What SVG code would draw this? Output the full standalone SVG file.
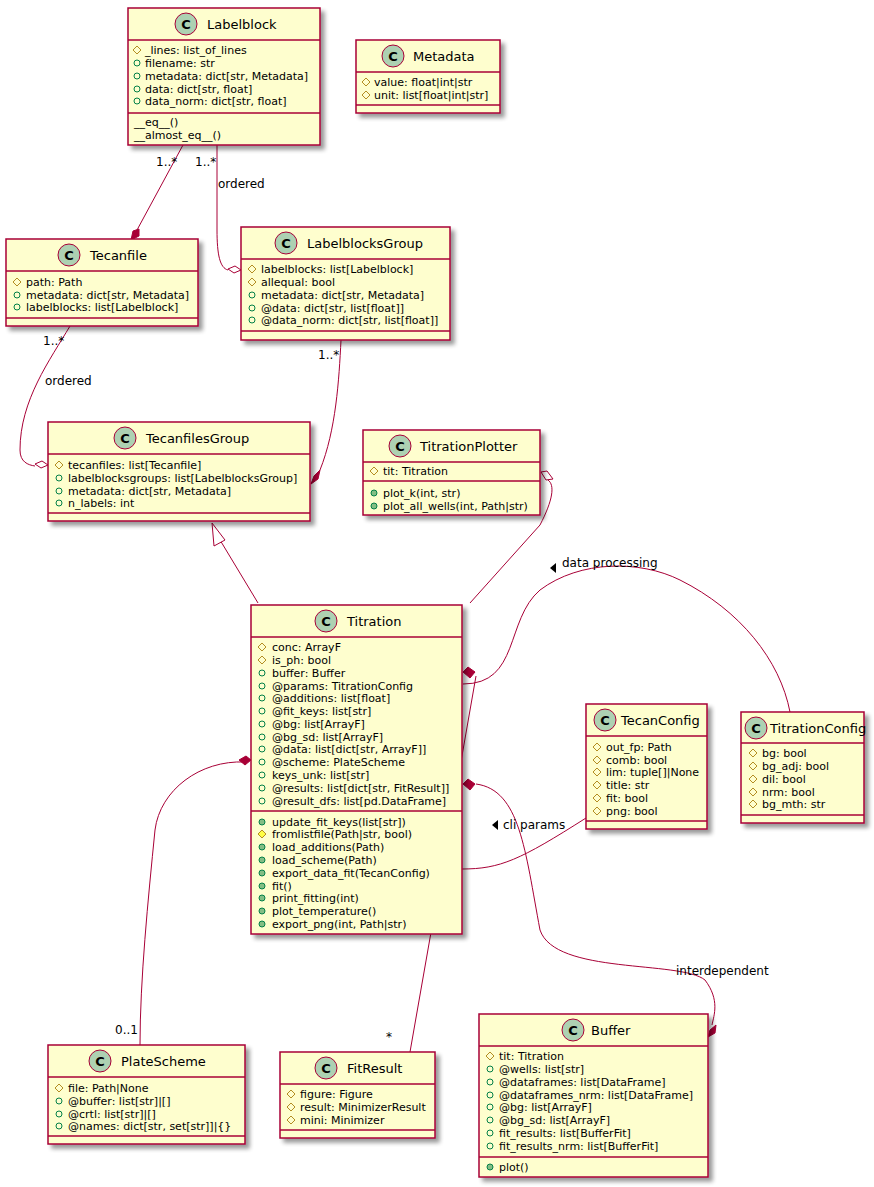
<svg xmlns="http://www.w3.org/2000/svg" width="874" height="1187" viewBox="0 0 874 1187">
<style>
.box{fill:#FEFECE;stroke:#A80036;stroke-width:1.5;filter:url(#sh)}
.sep{stroke:#A80036;stroke-width:1.5}
.ci{fill:#ADD1B2;stroke:#A80036;stroke-width:1}
.cl{font:bold 13px "DejaVu Sans",sans-serif;fill:#000}
.n{font:13px "DejaVu Sans",sans-serif;fill:#000}
.m{font:11px "DejaVu Sans",sans-serif;fill:#000}
.e{fill:none;stroke:#A80036;stroke-width:1}
.lb{font:12px "DejaVu Sans",sans-serif;fill:#000}
</style>
<defs>
<filter id="sh" x="-10%" y="-10%" width="130%" height="130%"><feGaussianBlur in="SourceAlpha" stdDeviation="2"/><feOffset dx="4" dy="4"/><feComponentTransfer><feFuncA type="linear" slope="0.4"/></feComponentTransfer><feMerge><feMergeNode/><feMergeNode in="SourceGraphic"/></feMerge></filter>
<circle id="pf" r="3" fill="none" stroke="#038048" stroke-width="1"/>
<circle id="pm" r="3" fill="#84BE84" stroke="#038048" stroke-width="1"/>
<path id="hf" d="M0,-4L4,0L0,4L-4,0Z" fill="none" stroke="#B38D22" stroke-width="1"/>
<path id="hm" d="M0,-4L4,0L0,4L-4,0Z" fill="#FFFF44" stroke="#B38D22" stroke-width="1"/>
</defs>
<rect width="874" height="1187" fill="#fff"/>

<g id="connectors">
<path class="e" d="M183,145 L137,230"/>
<path d="M131,240 L133,231 L139,229 L139,236 Z" fill="#A80036" stroke="#A80036"/>
<text class="lb" x="156" y="166">1..*</text>
<path class="e" d="M217,145 L217,230 C217,255 220,268 228,270"/>
<path d="M241,270 L235,266 L228,269 L234,273 Z" fill="#fff" stroke="#A80036"/>
<text class="lb" x="195" y="166">1..*</text>
<text class="lb" x="218" y="188">ordered</text>
<path class="e" d="M70,326 C50,360 20,400 20,450 C20,462 28,465 35,466"/>
<path d="M48,465 L42,461 L35,464 L41,468 Z" fill="#fff" stroke="#A80036"/>
<text class="lb" x="43" y="345">1..*</text>
<text class="lb" x="45" y="385">ordered</text>
<path class="e" d="M341,340 C339,380 336,430 320,470"/>
<path d="M311,484 L314,476 L320,470 L318,479 Z" fill="#A80036" stroke="#A80036"/>
<text class="lb" x="318" y="359">1..*</text>
<path class="e" d="M258,603 L220,540"/>
<path d="M212,523 L225,540 L214,546 Z" fill="#fff" stroke="#A80036"/>
<path class="e" d="M548,480 C555,485 553,500 540,525 L470,603"/>
<path d="M541,472 L547,471 L553,479 L546,480 Z" fill="#fff" stroke="#A80036"/>
<path class="e" d="M463,684 C520,684 505,620 540,590 C580,560 640,560 680,580 C740,610 780,660 790,712"/>
<path d="M550,568 L556,563 L556,573 Z" fill="#000"/>
<text class="lb" x="562" y="567">data processing</text>
<path class="e" d="M476,676 L410,1052"/>
<path d="M463,672 L468,667 L475,672 L470,678 Z" fill="#A80036" stroke="#A80036"/>
<text class="lb" x="386" y="1041">*</text>
<path class="e" d="M476,784 C520,790 525,850 540,930 C555,975 680,960 705,980 C720,1000 714,1015 712,1025"/>
<path d="M463,784 L468,779 L475,784 L470,790 Z" fill="#A80036" stroke="#A80036"/>
<path d="M708,1037 L710,1030 L716,1025 L715,1033 Z" fill="#A80036" stroke="#A80036"/>
<text class="lb" x="676" y="975">interdependent</text>
<path class="e" d="M462,869 C500,869 520,860 586,818"/>
<path d="M492,825 L498,820 L498,830 Z" fill="#000"/>
<text class="lb" x="503" y="829">cli params</text>
<path class="e" d="M245,762 C200,760 160,790 155,830 C148,900 140,980 140,1045"/>
<path d="M251,760 L246,756 L239,760 L245,765 Z" fill="#A80036" stroke="#A80036"/>
<text class="lb" x="115" y="1034">0..1</text>
</g>

<g id="Labelblock">
<rect class="box" x="128" y="8" width="192" height="137"/>
<line class="sep" x1="128" y1="40" x2="320" y2="40"/><line class="sep" x1="128" y1="113" x2="320" y2="113"/>
<circle class="ci" cx="186" cy="24" r="11"/><text class="cl" x="186" y="29" text-anchor="middle">C</text>
<text class="n" x="207" y="29">Labelblock</text>
<use href="#hf" x="137" y="50"/><text class="m" x="145" y="54">_lines: list_of_lines</text>
<use href="#pf" x="137" y="63"/><text class="m" x="145" y="67">filename: str</text>
<use href="#pf" x="137" y="76"/><text class="m" x="145" y="80">metadata: dict[str, Metadata]</text>
<use href="#pf" x="137" y="89"/><text class="m" x="145" y="93">data: dict[str, float]</text>
<use href="#pf" x="137" y="101"/><text class="m" x="145" y="105">data_norm: dict[str, float]</text>
<text class="m" x="134" y="126">__eq__()</text>
<text class="m" x="134" y="139">__almost_eq__()</text>
</g>

<g id="Metadata">
<rect class="box" x="356" y="40" width="144" height="73"/>
<line class="sep" x1="356" y1="72" x2="500" y2="72"/><line class="sep" x1="356" y1="105" x2="500" y2="105"/>
<circle class="ci" cx="393" cy="56" r="11"/><text class="cl" x="393" y="61" text-anchor="middle">C</text>
<text class="n" x="413" y="61">Metadata</text>
<use href="#hf" x="366" y="82"/><text class="m" x="374" y="86">value: float|int|str</text>
<use href="#hf" x="366" y="95"/><text class="m" x="374" y="99">unit: list[float|int|str]</text>
</g>

<g id="Tecanfile">
<rect class="box" x="6" y="239" width="192" height="87"/>
<line class="sep" x1="6" y1="271" x2="198" y2="271"/><line class="sep" x1="6" y1="318" x2="198" y2="318"/>
<circle class="ci" cx="69" cy="255" r="11"/><text class="cl" x="69" y="260" text-anchor="middle">C</text>
<text class="n" x="90" y="260">Tecanfile</text>
<use href="#hf" x="17" y="282"/><text class="m" x="26" y="286">path: Path</text>
<use href="#pf" x="17" y="295"/><text class="m" x="26" y="299">metadata: dict[str, Metadata]</text>
<use href="#pf" x="17" y="307"/><text class="m" x="26" y="311">labelblocks: list[Labelblock]</text>
</g>

<g id="LabelblocksGroup">
<rect class="box" x="241" y="227" width="209" height="113"/>
<line class="sep" x1="241" y1="259" x2="450" y2="259"/><line class="sep" x1="241" y1="331" x2="450" y2="331"/>
<circle class="ci" cx="286" cy="243" r="11"/><text class="cl" x="286" y="248" text-anchor="middle">C</text>
<text class="n" x="307" y="248">LabelblocksGroup</text>
<use href="#hf" x="252" y="269"/><text class="m" x="261" y="273">labelblocks: list[Labelblock]</text>
<use href="#hf" x="252" y="282"/><text class="m" x="261" y="286">allequal: bool</text>
<use href="#pf" x="252" y="295"/><text class="m" x="261" y="299">metadata: dict[str, Metadata]</text>
<use href="#pf" x="252" y="308"/><text class="m" x="261" y="312">@data: dict[str, list[float]]</text>
<use href="#pf" x="252" y="320"/><text class="m" x="261" y="324">@data_norm: dict[str, list[float]]</text>
</g>

<g id="TecanfilesGroup">
<rect class="box" x="48" y="422" width="262" height="99"/>
<line class="sep" x1="48" y1="454" x2="310" y2="454"/><line class="sep" x1="48" y1="513" x2="310" y2="513"/>
<circle class="ci" cx="125" cy="438" r="11"/><text class="cl" x="125" y="443" text-anchor="middle">C</text>
<text class="n" x="146" y="443">TecanfilesGroup</text>
<use href="#hf" x="59" y="465"/><text class="m" x="68" y="469">tecanfiles: list[Tecanfile]</text>
<use href="#pf" x="59" y="478"/><text class="m" x="68" y="482">labelblocksgroups: list[LabelblocksGroup]</text>
<use href="#pf" x="59" y="491"/><text class="m" x="68" y="495">metadata: dict[str, Metadata]</text>
<use href="#pf" x="59" y="503"/><text class="m" x="68" y="507">n_labels: int</text>
</g>

<g id="TitrationPlotter">
<rect class="box" x="363" y="430" width="177" height="85"/>
<line class="sep" x1="363" y1="462" x2="540" y2="462"/><line class="sep" x1="363" y1="481" x2="540" y2="481"/>
<circle class="ci" cx="400" cy="446" r="11"/><text class="cl" x="400" y="451" text-anchor="middle">C</text>
<text class="n" x="420" y="451">TitrationPlotter</text>
<use href="#hf" x="374" y="471"/><text class="m" x="383" y="475">tit: Titration</text>
<use href="#pm" x="374" y="493"/><text class="m" x="383" y="497">plot_k(int, str)</text>
<use href="#pm" x="374" y="506"/><text class="m" x="383" y="510">plot_all_wells(int, Path|str)</text>
</g>

<g id="Titration">
<rect class="box" x="251" y="605" width="211" height="329"/>
<line class="sep" x1="251" y1="637" x2="462" y2="637"/><line class="sep" x1="251" y1="811" x2="462" y2="811"/>
<circle class="ci" cx="326" cy="621" r="11"/><text class="cl" x="326" y="626" text-anchor="middle">C</text>
<text class="n" x="347" y="626">Titration</text>
<use href="#hf" x="262" y="647"/><text class="m" x="272" y="651">conc: ArrayF</text>
<use href="#hf" x="262" y="660"/><text class="m" x="272" y="664">is_ph: bool</text>
<use href="#pf" x="262" y="673"/><text class="m" x="272" y="677">buffer: Buffer</text>
<use href="#pf" x="262" y="686"/><text class="m" x="272" y="690">@params: TitrationConfig</text>
<use href="#pf" x="262" y="698"/><text class="m" x="272" y="702">@additions: list[float]</text>
<use href="#pf" x="262" y="711"/><text class="m" x="272" y="715">@fit_keys: list[str]</text>
<use href="#pf" x="262" y="724"/><text class="m" x="272" y="728">@bg: list[ArrayF]</text>
<use href="#pf" x="262" y="737"/><text class="m" x="272" y="741">@bg_sd: list[ArrayF]</text>
<use href="#pf" x="262" y="749"/><text class="m" x="272" y="753">@data: list[dict[str, ArrayF]]</text>
<use href="#pf" x="262" y="762"/><text class="m" x="272" y="766">@scheme: PlateScheme</text>
<use href="#pf" x="262" y="775"/><text class="m" x="272" y="779">keys_unk: list[str]</text>
<use href="#pf" x="262" y="788"/><text class="m" x="272" y="792">@results: list[dict[str, FitResult]]</text>
<use href="#pf" x="262" y="801"/><text class="m" x="272" y="805">@result_dfs: list[pd.DataFrame]</text>
<use href="#pm" x="262" y="822"/><text class="m" x="272" y="826">update_fit_keys(list[str])</text>
<use href="#hm" x="262" y="834"/><text class="m" x="272" y="838">fromlistfile(Path|str, bool)</text>
<use href="#pm" x="262" y="847"/><text class="m" x="272" y="851">load_additions(Path)</text>
<use href="#pm" x="262" y="860"/><text class="m" x="272" y="864">load_scheme(Path)</text>
<use href="#pm" x="262" y="873"/><text class="m" x="272" y="877">export_data_fit(TecanConfig)</text>
<use href="#pm" x="262" y="886"/><text class="m" x="272" y="890">fit()</text>
<use href="#pm" x="262" y="898"/><text class="m" x="272" y="902">print_fitting(int)</text>
<use href="#pm" x="262" y="911"/><text class="m" x="272" y="915">plot_temperature()</text>
<use href="#pm" x="262" y="924"/><text class="m" x="272" y="928">export_png(int, Path|str)</text>
</g>

<g id="TecanConfig">
<rect class="box" x="586" y="704" width="121" height="125"/>
<line class="sep" x1="586" y1="736" x2="707" y2="736"/><line class="sep" x1="586" y1="821" x2="707" y2="821"/>
<circle class="ci" cx="605" cy="720" r="11"/><text class="cl" x="605" y="725" text-anchor="middle">C</text>
<text class="n" x="621" y="725">TecanConfig</text>
<use href="#hf" x="597" y="747"/><text class="m" x="606" y="751">out_fp: Path</text>
<use href="#hf" x="597" y="760"/><text class="m" x="606" y="764">comb: bool</text>
<use href="#hf" x="597" y="772"/><text class="m" x="606" y="776">lim: tuple[]|None</text>
<use href="#hf" x="597" y="785"/><text class="m" x="606" y="789">title: str</text>
<use href="#hf" x="597" y="798"/><text class="m" x="606" y="802">fit: bool</text>
<use href="#hf" x="597" y="811"/><text class="m" x="606" y="815">png: bool</text>
</g>

<g id="TitrationConfig">
<rect class="box" x="741" y="712" width="123" height="111"/>
<line class="sep" x1="741" y1="743" x2="864" y2="743"/><line class="sep" x1="741" y1="815" x2="864" y2="815"/>
<circle class="ci" cx="756" cy="728" r="11"/><text class="cl" x="756" y="733" text-anchor="middle">C</text>
<text class="n" x="770" y="733">TitrationConfig</text>
<use href="#hf" x="753" y="753"/><text class="m" x="762" y="757">bg: bool</text>
<use href="#hf" x="753" y="766"/><text class="m" x="762" y="770">bg_adj: bool</text>
<use href="#hf" x="753" y="779"/><text class="m" x="762" y="783">dil: bool</text>
<use href="#hf" x="753" y="792"/><text class="m" x="762" y="796">nrm: bool</text>
<use href="#hf" x="753" y="804"/><text class="m" x="762" y="808">bg_mth: str</text>
</g>

<g id="PlateScheme">
<rect class="box" x="48" y="1045" width="197" height="99"/>
<line class="sep" x1="48" y1="1077" x2="245" y2="1077"/><line class="sep" x1="48" y1="1136" x2="245" y2="1136"/>
<circle class="ci" cx="100" cy="1061" r="11"/><text class="cl" x="100" y="1066" text-anchor="middle">C</text>
<text class="n" x="121" y="1066">PlateScheme</text>
<use href="#hf" x="59" y="1088"/><text class="m" x="68" y="1092">file: Path|None</text>
<use href="#pf" x="59" y="1101"/><text class="m" x="68" y="1105">@buffer: list[str]|[]</text>
<use href="#pf" x="59" y="1114"/><text class="m" x="68" y="1118">@crtl: list[str]|[]</text>
<use href="#pf" x="59" y="1126"/><text class="m" x="68" y="1130">@names: dict[str, set[str]]|{}</text>
</g>

<g id="FitResult">
<rect class="box" x="280" y="1052" width="155" height="86"/>
<line class="sep" x1="280" y1="1084" x2="435" y2="1084"/><line class="sep" x1="280" y1="1130" x2="435" y2="1130"/>
<circle class="ci" cx="326" cy="1068" r="11"/><text class="cl" x="326" y="1073" text-anchor="middle">C</text>
<text class="n" x="347" y="1073">FitResult</text>
<use href="#hf" x="291" y="1094"/><text class="m" x="300" y="1098">figure: Figure</text>
<use href="#hf" x="291" y="1107"/><text class="m" x="300" y="1111">result: MinimizerResult</text>
<use href="#hf" x="291" y="1120"/><text class="m" x="300" y="1124">mini: Minimizer</text>
</g>

<g id="Buffer">
<rect class="box" x="479" y="1014" width="229" height="163"/>
<line class="sep" x1="479" y1="1046" x2="708" y2="1046"/><line class="sep" x1="479" y1="1157" x2="708" y2="1157"/>
<circle class="ci" cx="573" cy="1030" r="11"/><text class="cl" x="573" y="1035" text-anchor="middle">C</text>
<text class="n" x="591" y="1035">Buffer</text>
<use href="#hf" x="490" y="1056"/><text class="m" x="499" y="1060">tit: Titration</text>
<use href="#pf" x="490" y="1069"/><text class="m" x="499" y="1073">@wells: list[str]</text>
<use href="#pf" x="490" y="1082"/><text class="m" x="499" y="1086">@dataframes: list[DataFrame]</text>
<use href="#pf" x="490" y="1095"/><text class="m" x="499" y="1099">@dataframes_nrm: list[DataFrame]</text>
<use href="#pf" x="490" y="1107"/><text class="m" x="499" y="1111">@bg: list[ArrayF]</text>
<use href="#pf" x="490" y="1120"/><text class="m" x="499" y="1124">@bg_sd: list[ArrayF]</text>
<use href="#pf" x="490" y="1133"/><text class="m" x="499" y="1137">fit_results: list[BufferFit]</text>
<use href="#pf" x="490" y="1146"/><text class="m" x="499" y="1150">fit_results_nrm: list[BufferFit]</text>
<use href="#pm" x="490" y="1167"/><text class="m" x="499" y="1171">plot()</text>
</g>
</svg>
